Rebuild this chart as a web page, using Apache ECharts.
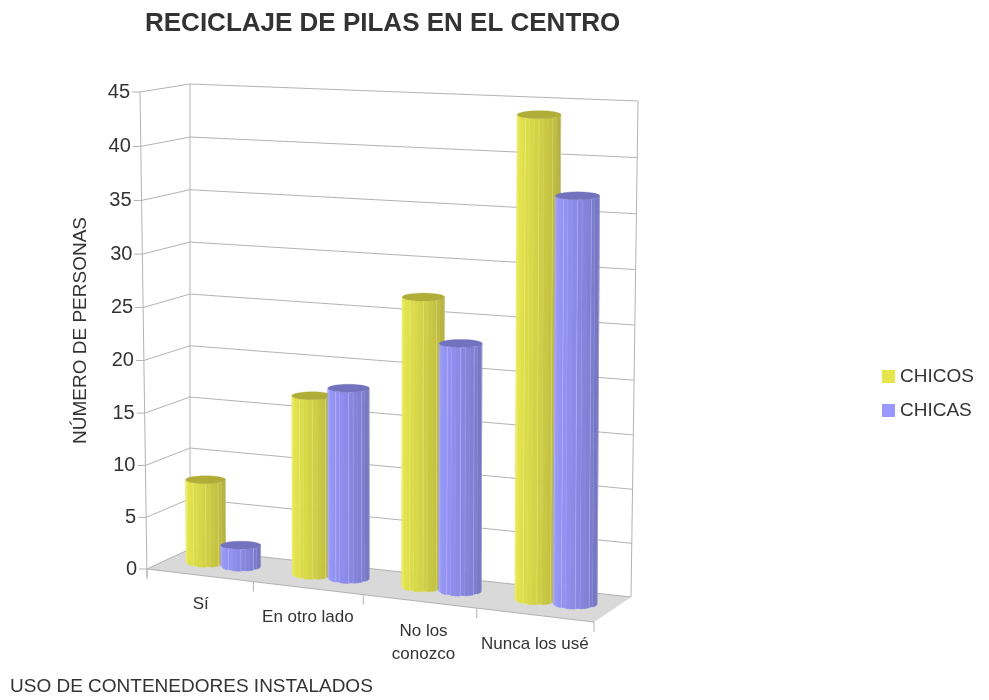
<!DOCTYPE html>
<html><head><meta charset="utf-8">
<style>html,body{margin:0;padding:0;background:#fff}#c{width:989px;height:700px}</style>
<script src="https://cdn.jsdelivr.net/npm/echarts@6/dist/echarts.min.js"></script>
</head><body><div id="c"></div>
<script>
const categories = ['Sí','En otro lado','No los\nconozco','Nunca los usé'];
const chicos = [8,17,27,44];
const chicas = [2,18,23,37];
const yMax = 45, yStep = 5;

const G = {left:148, top:92, width:446, height:477};
const TXT = '#333333', LINE = '#b3b3b3', FLOOR = '#d9d9d9';
const FONT = '"Liberation Sans",Arial,sans-serif';
const labelDx = [1,0,4,0];
const box = {
  flb:[147,569], flt:[140,92], blb:[190,549], blt:[190,84],
  brb:[631,597], brt:[638,101], frb:[594,622], frt:[593,114]
};
function mix(a,b,t){return [a[0]+(b[0]-a[0])*t,a[1]+(b[1]-a[1])*t];}
function warp(u,d,v){
  const f = u/(1+0.067*(1-u));
  const w = v/(1+0.03*(1-v));
  const fb = mix(box.flb,box.frb,f), ft = mix(box.flt,box.frt,f);
  const bb = mix(box.blb,box.brb,f), bt = mix(box.blt,box.brt,f);
  return mix(mix(fb,ft,w),mix(bb,bt,w),d);
}
function normX(x){return (x-G.left)/G.width;}
function normY(y){return (G.top+G.height-y)/G.height;}
function line(a,b){return {type:'line',shape:{x1:a[0],y1:a[1],x2:b[0],y2:b[1]},style:{stroke:LINE,lineWidth:1}};}
function poly(pts,fill,stroke){return {type:'polygon',shape:{points:pts},style:{fill:fill,stroke:stroke||fill,lineWidth:stroke?0.6:0.3}};}

function renderFrame(params,api){
  const ch=[];
  ch.push(poly([warp(0,0,0),warp(0,1,0),warp(1,1,0),warp(1,0,0)],FLOOR));
  for(let t=0;t<=yMax;t+=yStep){
    const v=normY(api.coord([0,t])[1]);
    const a=warp(0,0,v),b=warp(0,1,v),c=warp(1,1,v);
    ch.push(line([a[0]-8,a[1]],a),line(a,b),line(b,c));
    ch.push({type:'text',style:{text:String(t),x:a[0]-10,y:a[1],fill:TXT,font:'20px '+FONT,align:'right',verticalAlign:'middle'}});
  }
  const lf=warp(0,0,0);
  ch.push(line(warp(0,0,1),[lf[0],lf[1]+8]),line(warp(0,1,0),warp(0,1,1)),line(warp(1,1,0),warp(1,1,1)));
  const n=categories.length, band=api.size([1,0])[0];
  for(let i=0;i<=n;i++){
    const x=i<n?api.coord([i,0])[0]-band/2:api.coord([n-1,0])[0]+band/2;
    const p=warp(normX(x),0,0);
    ch.push(line(p,[p[0],p[1]+10]));
  }
  ch.push(line(warp(0,0,0),warp(1,0,0)));
  categories.forEach((c,i)=>{
    const p=warp(normX(api.coord([i,0])[0]),0,0);
    ch.push({type:'text',style:{text:c,x:p[0]+labelDx[i],y:p[1]+18,fill:TXT,font:'17px '+FONT,align:'center',verticalAlign:'top',lineHeight:23}});
  });
  return {type:'group',children:ch};
}
function rgb(c){return 'rgb('+c.map(Math.round).join(',')+')';}
function lerp3(a,b,t){return [0,1,2].map(i=>a[i]+(b[i]-a[i])*t);}
function cylinder(side,light,dark,cap){
  return function(params,api){
    const i=api.value(0), val=api.value(1);
    const band=api.size([1,0])[0];
    const cx=api.coord([i,0])[0]+side*0.165*band;
    const v=normY(api.coord([i,val])[1]);
    const u=normX(cx), ru=0.19*band/G.width;
    const c0=warp(u,0.56,0), c1=warp(u,0.56,v);
    const l=warp(u-ru,0.56,0), r=warp(u+ru,0.56,0);
    const rx=(r[0]-l[0])/2, ry=5.5, capRy=4, N=14, ch=[];
    const pt=(c,th,e)=>[c[0]+rx*Math.cos(th),c[1]+e*Math.sin(th)];
    for(let k=0;k<N;k++){
      const a=Math.PI-Math.PI*k/N, b=Math.PI-Math.PI*(k+1)/N;
      const col=rgb(lerp3(light,dark,Math.pow((k+0.5)/N,1.5)));
      ch.push(poly([pt(c1,a,capRy),pt(c1,b,capRy),pt(c0,b,ry),pt(c0,a,ry)],col,k%3===1?'rgba(255,255,255,0.3)':col));
    }
    const top=[];
    for(let k=0;k<28;k++) top.push(pt(c1,2*Math.PI*k/28,capRy));
    ch.push(poly(top,rgb(cap)));
    return {type:'group',children:ch};
  };
}
const data2=a=>a.map((v,i)=>[i,v]);
const option={
  animation:false,
  backgroundColor:'#fff',
  title:{text:'RECICLAJE DE PILAS EN EL CENTRO',left:140,top:6,textStyle:{fontFamily:FONT,fontSize:26,fontWeight:'bold',color:TXT}},
  legend:{orient:'vertical',left:877,top:362,itemWidth:13,itemHeight:13,itemGap:15,icon:'rect',data:['CHICOS','CHICAS'],
    textStyle:{fontFamily:FONT,fontSize:19,color:TXT},selectedMode:false},
  grid:{left:G.left,top:G.top,width:G.width,height:G.height},
  xAxis:{type:'category',data:categories,axisLine:{show:false},axisTick:{show:false},axisLabel:{show:false},splitLine:{show:false},
    name:'USO DE CONTENEDORES INSTALADOS',nameLocation:'start',nameGap:138,
    nameTextStyle:{fontFamily:FONT,fontSize:19,color:TXT,align:'left',verticalAlign:'top',padding:[108,0,0,0]}},
  yAxis:{type:'value',min:0,max:yMax,interval:yStep,axisLine:{show:false},axisTick:{show:false},splitLine:{show:false},axisLabel:{show:false},
    name:'NÚMERO DE PERSONAS',nameLocation:'middle',nameGap:58,nameRotate:90,nameTextStyle:{fontFamily:FONT,fontSize:19,color:TXT}},
  series:[
    {type:'custom',name:'frame',silent:true,z:1,clip:false,data:[[0,0]],renderItem:renderFrame},
    {type:'custom',name:'CHICOS',silent:true,z:2,clip:false,itemStyle:{color:'#e6e64c'},data:data2(chicos),encode:{x:0,y:1},
      renderItem:cylinder(-1,[232,232,76],[168,165,58],[176,173,56])},
    {type:'custom',name:'CHICAS',silent:true,z:3,clip:false,itemStyle:{color:'#9999ff'},data:data2(chicas),encode:{x:0,y:1},
      renderItem:cylinder(1,[153,153,255],[108,108,180],[114,114,190])}
  ]
};
echarts.init(document.getElementById('c')).setOption(option);
</script></body></html>
